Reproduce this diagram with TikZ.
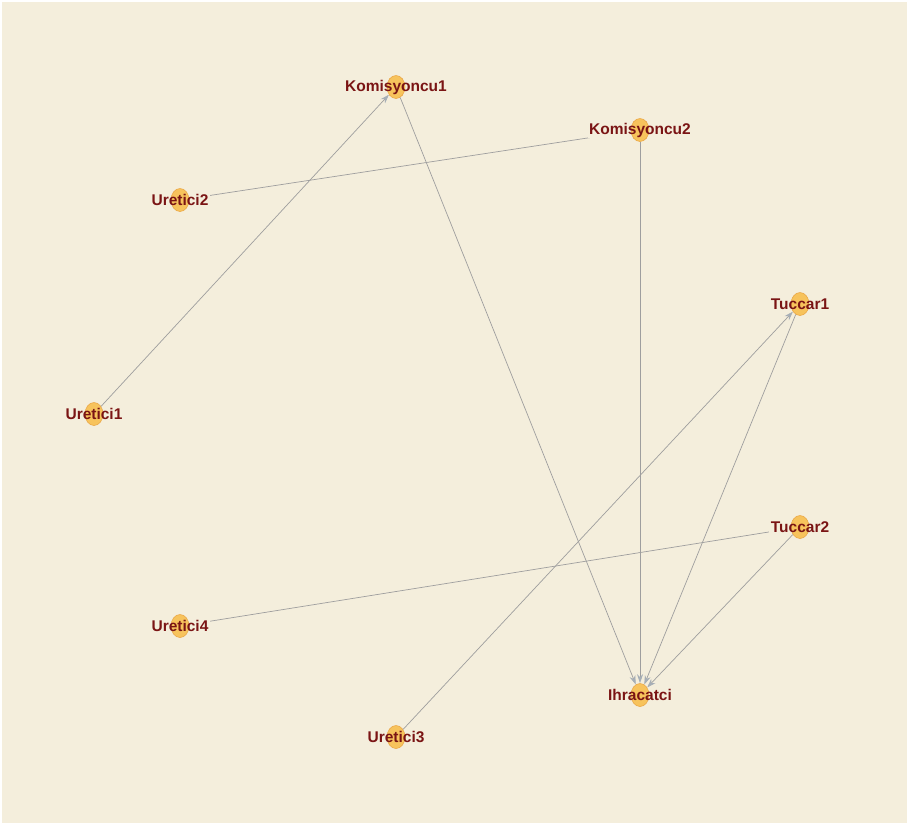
\documentclass[tikz,border=0pt]{standalone}
\usepackage{fontspec}
\setmainfont{Liberation Sans}
\usetikzlibrary{arrows.meta,shapes.geometric}
\definecolor{bg}{HTML}{F4EEDC}
\definecolor{lblred}{HTML}{7A1414}
\definecolor{nodeor}{HTML}{F7C35C}
\definecolor{nodeedge}{HTML}{EBA94A}
\definecolor{edgegray}{HTML}{9E9E9E}
\definecolor{tipgray}{HTML}{A6AEB6}
\tikzset{
  vert/.style={ellipse, minimum width=18pt, minimum height=23pt, inner sep=0pt,
    fill=nodeor, draw=nodeedge, line width=0.6pt},
  lbl/.style={font=\bfseries\fontsize{15.5}{16}\selectfont, text=lblred,
    inner xsep=1.5pt, inner ysep=1pt, fill=bg,
    path picture={\filldraw[fill=nodeor, draw=nodeedge, line width=0.6pt]
      (path picture bounding box.center) ellipse (9pt and 11.5pt);}},
  link/.style={draw=edgegray, line width=0.7pt,
    -{Stealth[length=9pt, width=6pt, color=tipgray, fill=tipgray]}}
}
\begin{document}
\begin{tikzpicture}[x=1pt, y=-1pt]
  \useasboundingbox (0,0) rectangle (907,823);
  \fill[white] (0,0) rectangle (907,823);
  \fill[bg] (2,2) rectangle (907,823);
  % vertices
  \node[vert] (K1) at (396,87) {};
  \node[vert] (K2) at (640,130) {};
  \node[vert] (U2) at (180,200) {};
  \node[vert] (T1) at (800,304) {};
  \node[vert] (U1) at (94,414) {};
  \node[vert] (T2) at (800,527) {};
  \node[vert] (U4) at (180,626) {};
  \node[vert] (IH) at (640,695) {};
  \node[vert] (U3) at (396,737) {};
  % edges
  \draw[link] (U1) -- (K1);
  \draw[link] (U2) -- (K2);
  \draw[link] (K1) -- (IH);
  \draw[link] (K2) -- (IH);
  \draw[link] (U3) -- (T1);
  \draw[link] (T1) -- (IH);
  \draw[link] (U4) -- (T2);
  \draw[link] (T2) -- (IH);
  % labels
  \node[lbl] (lK1) at (396,87) {Komisyoncu1};
  \node[lbl] (lK2) at (640,130) {Komisyoncu2};
  \node[lbl] (lU2) at (180,200) {Uretici2};
  \node[lbl] (lT1) at (800,304) {Tuccar1};
  \node[lbl] (lU1) at (94,414) {Uretici1};
  \node[lbl] (lT2) at (800,527) {Tuccar2};
  \node[lbl] (lU4) at (180,626) {Uretici4};
  \node[lbl] (lIH) at (640,695) {Ihracatci};
  \node[lbl] (lU3) at (396,737) {Uretici3};
\end{tikzpicture}
\end{document}
